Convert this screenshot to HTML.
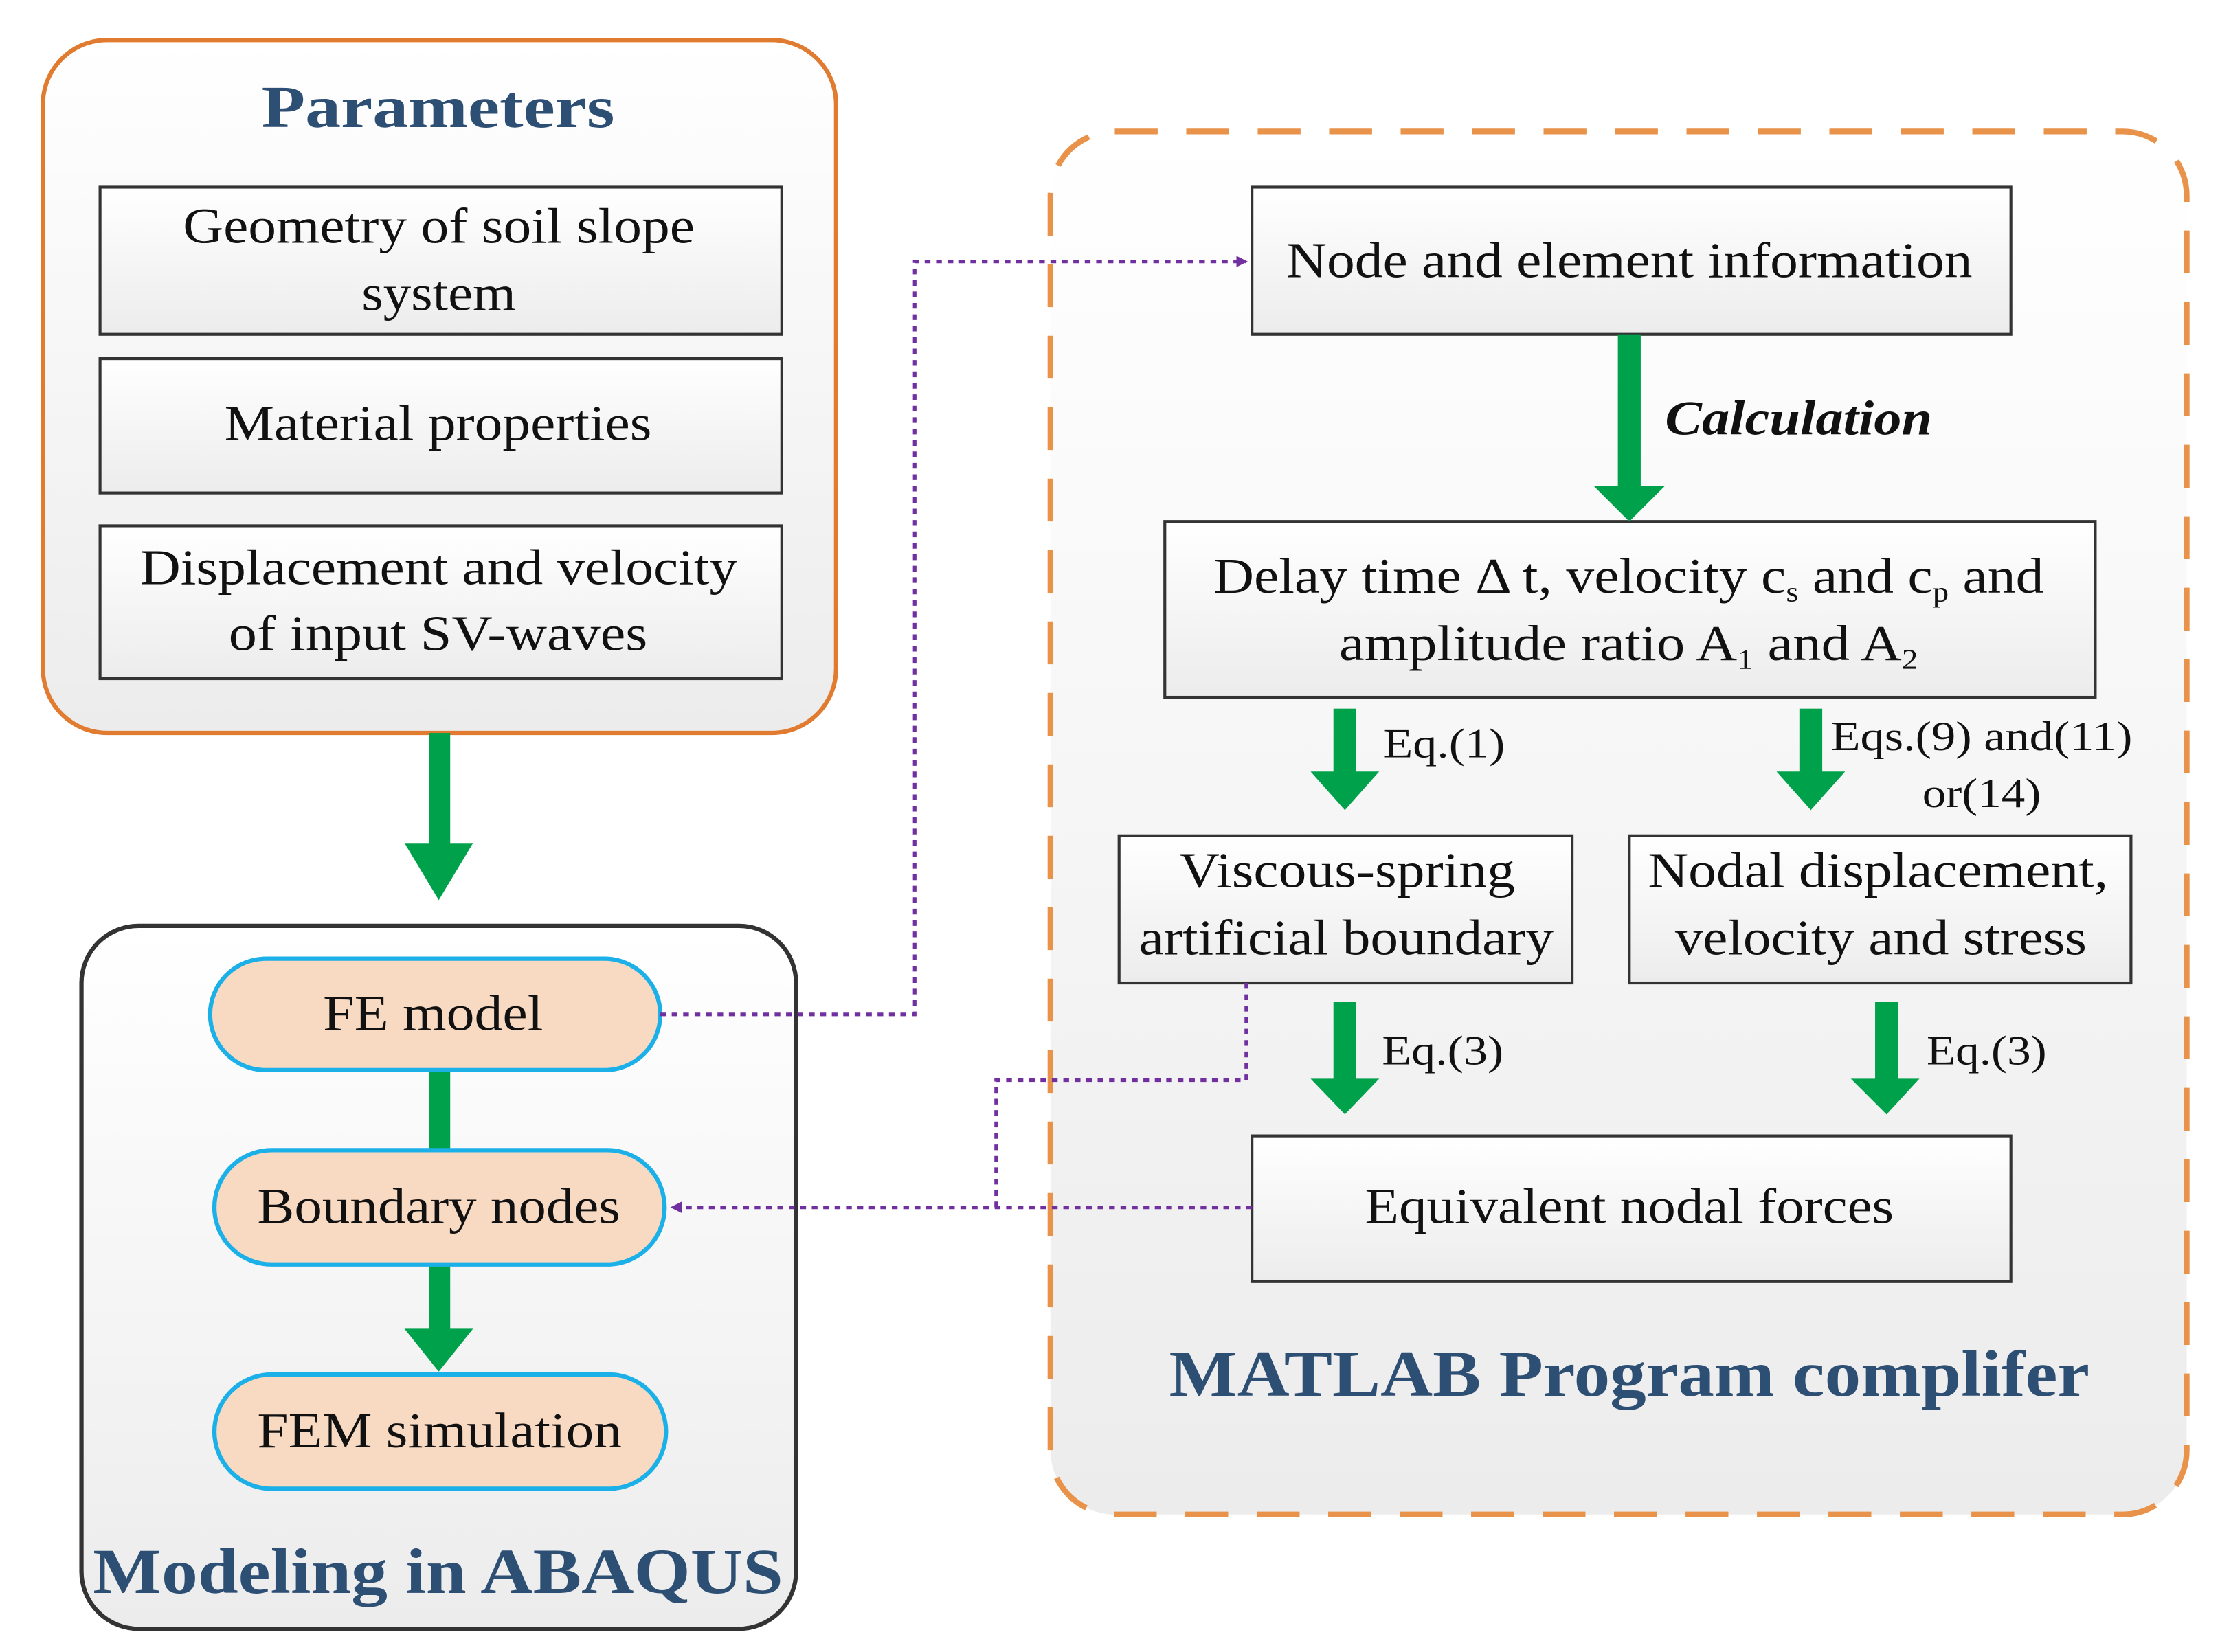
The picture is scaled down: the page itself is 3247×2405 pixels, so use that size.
<!DOCTYPE html>
<html><head><meta charset="utf-8"><style>html,body{margin:0;padding:0;background:#fff}svg{display:block}text{font-family:"Liberation Serif",serif}</style></head>
<body>
<svg width="3247" height="2405" viewBox="0 0 1561 1156.25" preserveAspectRatio="none" xmlns="http://www.w3.org/2000/svg">
<defs>
<linearGradient id="g" x1="0" y1="0" x2="0" y2="1"><stop offset="0" stop-color="#ffffff"/><stop offset="1" stop-color="#ececec"/></linearGradient>
<marker id="pa" markerWidth="8" markerHeight="8" refX="7" refY="4" orient="auto" markerUnits="userSpaceOnUse"><path d="M0,0 L8,4 L0,8 z" fill="#7030a0"/></marker>
</defs>
<!-- Parameters -->
<rect x="30" y="28" width="555" height="485" rx="45" fill="url(#g)" stroke="#e07b30" stroke-width="3"/>
<text x="183" y="89" textLength="247" lengthAdjust="spacingAndGlyphs" font-size="42" font-weight="bold" fill="#2e4f74">Parameters</text>
<g fill="url(#g)" stroke="#333" stroke-width="2">
<rect x="70" y="131" width="477" height="103"/>
<rect x="70" y="251" width="477" height="94"/>
<rect x="70" y="368" width="477" height="107"/>
</g>
<g font-size="35" fill="#111" lengthAdjust="spacingAndGlyphs">
<text x="128" y="170" textLength="358" lengthAdjust="spacingAndGlyphs">Geometry of soil slope</text>
<text x="253" y="217" textLength="108" lengthAdjust="spacingAndGlyphs">system</text>
<text x="157" y="308" textLength="299" lengthAdjust="spacingAndGlyphs">Material properties</text>
<text x="98" y="409" textLength="418" lengthAdjust="spacingAndGlyphs">Displacement and velocity</text>
<text x="160" y="455" textLength="293" lengthAdjust="spacingAndGlyphs">of input SV-waves</text>
</g>
<!-- ABAQUS -->
<rect x="57" y="648" width="500" height="492" rx="40" fill="url(#g)" stroke="#333" stroke-width="3"/>
<text x="65" y="1115" textLength="483" lengthAdjust="spacingAndGlyphs" font-size="45" font-weight="bold" fill="#2e4f74">Modeling in ABAQUS</text>
<g fill="#00a14b">
<rect x="300" y="513" width="15" height="80"/><path d="M283,590 L331,590 L307,630 z"/>
<rect x="300" y="749" width="15" height="58"/>
<rect x="300" y="885" width="15" height="48"/><path d="M283,930 L331,930 L307,960 z"/>
</g>
<g fill="#f8d9c2" stroke="#1cb0e8" stroke-width="3">
<rect x="147" y="671" width="315" height="78" rx="39"/>
<rect x="150" y="805" width="315" height="80" rx="40"/>
<rect x="150" y="962" width="316" height="80" rx="40"/>
</g>
<g font-size="35" fill="#111">
<text x="226" y="721" textLength="154" lengthAdjust="spacingAndGlyphs">FE model</text>
<text x="180" y="856" textLength="254" lengthAdjust="spacingAndGlyphs">Boundary nodes</text>
<text x="180" y="1013" textLength="255" lengthAdjust="spacingAndGlyphs">FEM simulation</text>
</g>
<!-- MATLAB -->
<rect x="735" y="92" width="795" height="968" rx="45" fill="url(#g)" stroke="#e8924a" stroke-width="4" stroke-dasharray="30 20"/>
<g fill="url(#g)" stroke="#333" stroke-width="2">
<rect x="876" y="131" width="531" height="103"/>
<rect x="815" y="365" width="651" height="123"/>
<rect x="783" y="585" width="317" height="103"/>
<rect x="1140" y="585" width="351" height="103"/>
<rect x="876" y="795" width="531" height="102"/>
</g>
<g font-size="35" fill="#111">
<text x="900" y="194" textLength="480" lengthAdjust="spacingAndGlyphs">Node and element information</text>
<text x="849" y="415" textLength="581" lengthAdjust="spacingAndGlyphs">Delay time  Δ t, velocity c<tspan font-size="20" dy="6">s</tspan><tspan dy="-6"> and c</tspan><tspan font-size="20" dy="6">p</tspan><tspan dy="-6"> and</tspan></text>
<text x="937" y="462" textLength="405" lengthAdjust="spacingAndGlyphs">amplitude ratio A<tspan font-size="20" dy="6">1</tspan><tspan dy="-6"> and A</tspan><tspan font-size="20" dy="6">2</tspan></text>
<text x="825" y="621" textLength="235" lengthAdjust="spacingAndGlyphs">Viscous-spring</text>
<text x="797" y="668" textLength="290" lengthAdjust="spacingAndGlyphs">artificial boundary</text>
<text x="1153" y="621" textLength="322" lengthAdjust="spacingAndGlyphs">Nodal displacement,</text>
<text x="1172" y="668" textLength="288" lengthAdjust="spacingAndGlyphs">velocity and stress</text>
<text x="955" y="856" textLength="370" lengthAdjust="spacingAndGlyphs">Equivalent nodal forces</text>
</g>
<text x="1165" y="304" textLength="187" lengthAdjust="spacingAndGlyphs" font-size="34" font-weight="bold" font-style="italic" fill="#111">Calculation</text>
<g font-size="29" fill="#111">
<text x="968" y="530" textLength="85" lengthAdjust="spacingAndGlyphs">Eq.(1)</text>
<text x="1281" y="525" textLength="211" lengthAdjust="spacingAndGlyphs">Eqs.(9) and(11)</text>
<text x="1345" y="565" textLength="83" lengthAdjust="spacingAndGlyphs">or(14)</text>
<text x="967" y="745" textLength="85" lengthAdjust="spacingAndGlyphs">Eq.(3)</text>
<text x="1348" y="745" textLength="84" lengthAdjust="spacingAndGlyphs">Eq.(3)</text>
</g>
<text x="818" y="977" textLength="644" lengthAdjust="spacingAndGlyphs" font-size="46" font-weight="bold" fill="#2e4f74">MATLAB Program complifer</text>
<g fill="#00a14b">
<rect x="1132" y="234" width="16" height="110"/><path d="M1115,340 L1165,340 L1140,365 z"/>
<rect x="933" y="496" width="16" height="46"/><path d="M917,540 L965,540 L941,567 z"/>
<rect x="1259" y="496" width="16" height="46"/><path d="M1243,540 L1291,540 L1267,567 z"/>
<rect x="933" y="701" width="16" height="56"/><path d="M917,755 L965,755 L941,780 z"/>
<rect x="1312" y="701" width="16" height="56"/><path d="M1295,755 L1343,755 L1320,780 z"/>
</g>
<!-- dotted connectors -->
<g fill="none" stroke="#7030a0" stroke-width="2.5" stroke-dasharray="4 4">
<path d="M462,710 L640,710 L640,183 L872,183" marker-end="url(#pa)"/>
<path d="M872,688 L872,756 L697,756 L697,845"/>
<path d="M876,845 L470,845" marker-end="url(#pa)"/>
</g>
</svg>
</body></html>
